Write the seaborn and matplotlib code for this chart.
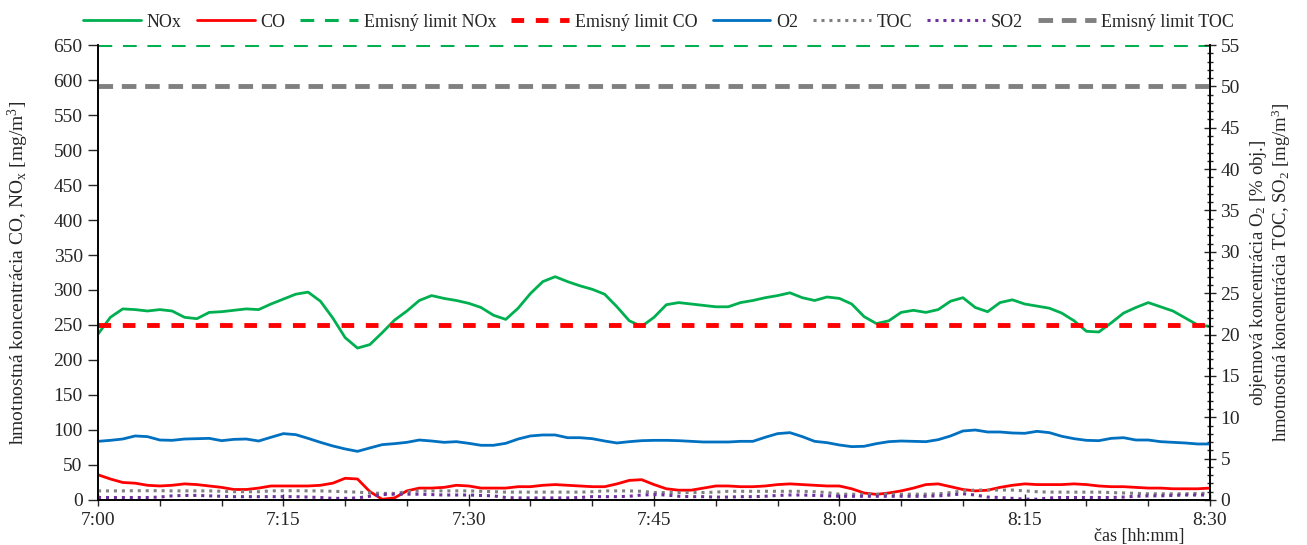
import pandas as pd
import seaborn as sns
import matplotlib.pyplot as plt
from matplotlib.ticker import MultipleLocator, FixedLocator, FixedFormatter

# minutes after 7:00, one sample per minute
minutes = list(range(91))

nox = [237, 261, 273, 272, 270, 272, 270, 261, 259, 268,
       269, 271, 273, 272, 280, 287, 294, 297, 284, 260,
       232, 217, 222, 239, 257, 270, 285, 292, 288, 285,
       281, 275, 264, 258, 274, 295, 312, 319, 312, 306,
       301, 294, 276, 256, 248, 261, 279, 282, 280, 278,
       276, 276, 282, 285, 289, 292, 296, 289, 285, 290,
       288, 280, 262, 252, 256, 268, 271, 268, 272, 284,
       289, 275, 269, 282, 286, 280, 277, 274, 267, 256,
       241, 240, 253, 267, 275, 282, 276, 270, 260, 250,
       248]

co = [36, 30, 25, 24, 21, 20, 21, 23, 22, 20,
      18, 15, 15, 17, 20, 20, 20, 20, 21, 24,
      31, 30, 12, 1, 3, 13, 17, 17, 18, 21,
      20, 17, 17, 17, 19, 19, 21, 22, 21, 20,
      19, 19, 23, 28, 29, 22, 16, 14, 14, 17,
      20, 20, 19, 19, 20, 22, 23, 22, 21, 20,
      20, 16, 10, 8, 10, 13, 17, 22, 23, 19,
      15, 13, 14, 18, 21, 23, 22, 22, 22, 23,
      22, 20, 19, 19, 18, 17, 17, 16, 16, 16,
      17]

o2 = [7.09, 7.21, 7.37, 7.74, 7.66, 7.25, 7.21, 7.37, 7.41, 7.45,
      7.17, 7.33, 7.37, 7.13, 7.58, 8.02, 7.90, 7.45, 6.97, 6.53,
      6.17, 5.88, 6.29, 6.69, 6.81, 6.97, 7.25, 7.13, 6.97, 7.05,
      6.85, 6.61, 6.61, 6.85, 7.37, 7.74, 7.86, 7.86, 7.53, 7.53,
      7.41, 7.13, 6.89, 7.05, 7.17, 7.21, 7.21, 7.17, 7.09, 7.01,
      7.01, 7.01, 7.09, 7.09, 7.58, 8.02, 8.14, 7.66, 7.09, 6.93,
      6.65, 6.45, 6.49, 6.81, 7.05, 7.13, 7.09, 7.05, 7.29, 7.74,
      8.34, 8.46, 8.22, 8.22, 8.10, 8.06, 8.30, 8.14, 7.70, 7.41,
      7.21, 7.17, 7.45, 7.53, 7.25, 7.25, 7.05, 6.97, 6.89, 6.77,
      6.77]

toc = [1.1, 1.1, 1.1, 1.12, 1.12, 1.12, 1.1, 1.1, 1.1, 1.1,
       1.05, 1.0, 1.0, 1.0, 1.1, 1.12, 1.12, 1.1, 1.1, 1.05,
       1.0, 0.95, 0.85, 0.8, 0.8, 1.0, 1.1, 1.1, 1.1, 1.1,
       1.1, 1.05, 1.0, 0.95, 0.95, 0.95, 0.95, 0.95, 0.95, 0.95,
       1.0, 1.1, 1.1, 1.1, 1.05, 0.9, 0.9, 0.9, 0.9, 0.9,
       0.95, 1.05, 1.05, 1.05, 1.05, 1.05, 1.05, 1.05, 1.0, 0.9,
       0.7, 0.7, 0.7, 0.7, 0.7, 0.7, 0.7, 0.7, 0.75, 0.9,
       1.1, 1.2, 1.2, 1.2, 1.2, 1.1, 1.0, 0.95, 0.95, 0.95,
       0.95, 0.95, 0.9, 0.85, 0.8, 0.75, 0.75, 0.75, 0.75, 0.8,
       0.8]

so2 = [0.3, 0.3, 0.3, 0.3, 0.3, 0.35, 0.5, 0.55, 0.55, 0.5,
       0.45, 0.4, 0.4, 0.4, 0.4, 0.4, 0.4, 0.35, 0.3, 0.2,
       0.2, 0.25, 0.45, 0.65, 0.7, 0.7, 0.7, 0.65, 0.6, 0.6,
       0.6, 0.55, 0.5, 0.3, 0.25, 0.25, 0.25, 0.25, 0.25, 0.3,
       0.4, 0.4, 0.4, 0.45, 0.6, 0.65, 0.6, 0.45, 0.4, 0.4,
       0.35, 0.35, 0.4, 0.4, 0.45, 0.55, 0.6, 0.6, 0.55, 0.5,
       0.45, 0.45, 0.45, 0.45, 0.45, 0.45, 0.45, 0.45, 0.5, 0.6,
       0.75, 0.6, 0.35, 0.3, 0.2, 0.1, 0.1, 0.25, 0.3, 0.3,
       0.3, 0.3, 0.3, 0.35, 0.45, 0.5, 0.5, 0.55, 0.6, 0.6,
       0.6]

limit_nox = 650
limit_co = 250
limit_toc = 50

time_ticks = [0, 15, 30, 45, 60, 75, 90]
time_labels = ["7:00", "7:15", "7:30", "7:45", "8:00", "8:15", "8:30"]

df = pd.DataFrame({"min": minutes, "NOx": nox, "CO": co, "O2": o2,
                   "TOC": toc, "SO2": so2})
df["lim_nox"] = limit_nox
df["lim_co"] = limit_co
df["lim_toc"] = limit_toc

sns.set_style("ticks")
plt.rcParams["font.family"] = ["Liberation Serif", "DejaVu Serif"]
plt.rcParams["mathtext.fontset"] = "custom"
plt.rcParams["mathtext.rm"] = "Liberation Serif"
plt.rcParams["mathtext.default"] = "regular"

fig = plt.figure(figsize=(13.07, 5.45), dpi=100)
ax = fig.add_axes([0.0750, 0.0826, 0.8508, 0.8348])
ax2 = ax.twinx()

GREEN = "#00B050"
RED = "#FF0000"
BLUE = "#0070C0"
GRAY = "#808080"
PURPLE = "#7030A0"

sns.lineplot(data=df, x="min", y="NOx", ax=ax, color=GREEN, lw=2, label="NOx", legend=False)
sns.lineplot(data=df, x="min", y="CO", ax=ax, color=RED, lw=2, label="CO", legend=False)
sns.lineplot(data=df, x="min", y="lim_nox", ax=ax, color=GREEN, lw=2.2,
             linestyle=(0, (4.5, 3.5)), label="Emisný limit NOx", legend=False)
sns.lineplot(data=df, x="min", y="lim_co", ax=ax, color=RED, lw=3.5,
             linestyle=(0, (2.6, 2.4)), label="Emisný limit CO", legend=False)

sns.lineplot(data=df, x="min", y="O2", ax=ax2, color=BLUE, lw=2, label="O2", legend=False)
sns.lineplot(data=df, x="min", y="TOC", ax=ax2, color=GRAY, lw=2.2,
             linestyle=(0, (1, 1.6)), label="TOC", legend=False)
sns.lineplot(data=df, x="min", y="SO2", ax=ax2, color=PURPLE, lw=2.2,
             linestyle=(0, (1, 1.6)), label="SO2", legend=False)
sns.lineplot(data=df, x="min", y="lim_toc", ax=ax2, color=GRAY, lw=3.5,
             linestyle=(0, (3, 1.8)), label="Emisný limit TOC", legend=False)

ax.set_xlim(0, 90)
ax.set_ylim(0, 650)
ax2.set_ylim(0, 55)

ax.xaxis.set_major_locator(FixedLocator(time_ticks))
ax.xaxis.set_major_formatter(FixedFormatter(time_labels))
ax.xaxis.set_minor_locator(MultipleLocator(5))
ax.yaxis.set_major_locator(MultipleLocator(50))
ax2.yaxis.set_major_locator(MultipleLocator(5))
ax2.yaxis.set_minor_locator(MultipleLocator(1))

for a in (ax, ax2):
    a.spines["top"].set_visible(False)
    for s in a.spines.values():
        s.set_color("black")
        s.set_linewidth(1.2)

ax.tick_params(axis="y", labelsize=14, direction="out", length=7, width=1, pad=4)
ax.tick_params(axis="x", which="major", labelsize=14, direction="inout", length=8, width=1, pad=5)
ax.tick_params(axis="x", which="minor", direction="out", length=4, width=1)
ax2.tick_params(axis="y", which="major", labelsize=14, direction="inout", length=8, width=1)
ax2.tick_params(axis="y", which="minor", direction="inout", length=5, width=1)

ax.set_ylabel("hmotnostná koncentrácia CO, NO$_x$ [mg/m$^3$]", fontsize=14, labelpad=16)
ax2.set_ylabel("objemová koncentrácia O$_2$ [% obj.]\nhmotnostná koncentrácia TOC, SO$_2$ [mg/m$^3$]",
               fontsize=13.5, labelpad=6, linespacing=1.0)
ax.set_xlabel("čas [hh:mm]", fontsize=13, loc="right")
ax.xaxis.set_label_coords(0.977, -0.062)

handles = ax.get_lines() + ax2.get_lines()
labels = [h.get_label() for h in handles]
fig.legend(handles, labels, loc="upper center", bbox_to_anchor=(0.504, 1.005), ncol=8,
           frameon=False, fontsize=13, handlelength=3.2, columnspacing=0.85,
           handletextpad=0.3)

fig.savefig("out.png", dpi=100)
